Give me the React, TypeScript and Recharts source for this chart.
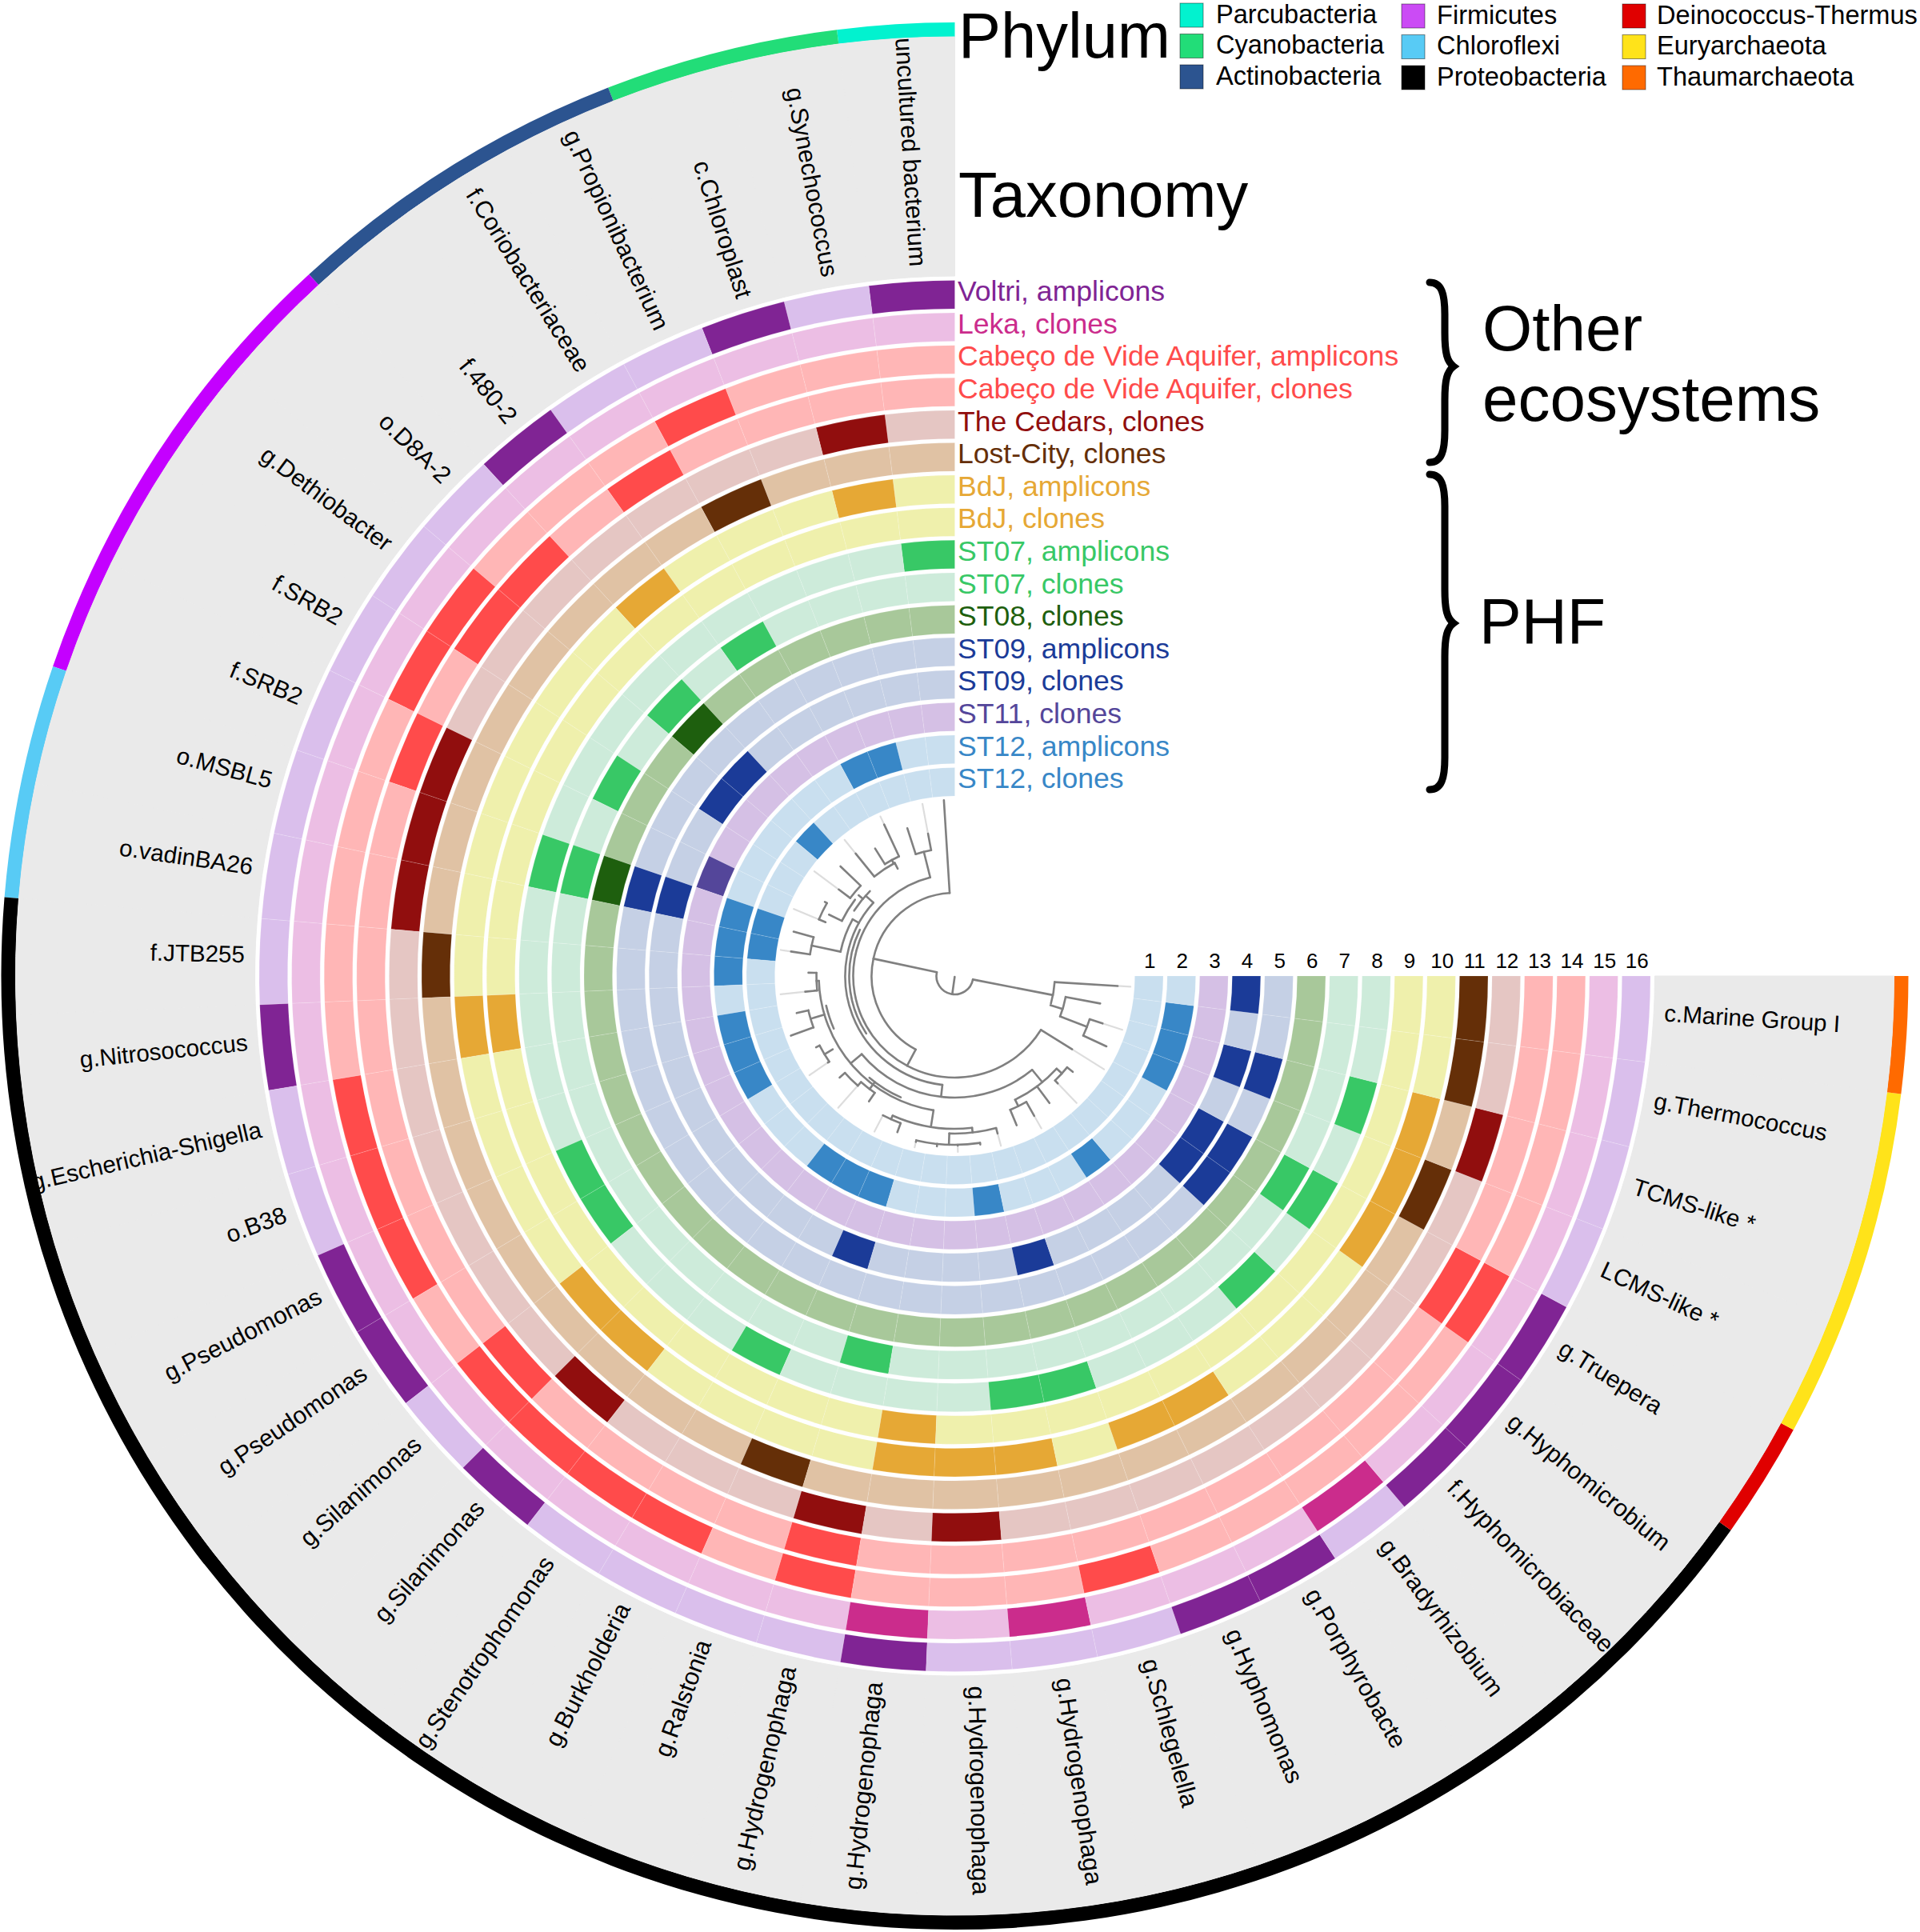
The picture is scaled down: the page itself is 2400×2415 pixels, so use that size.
import React from 'react';
import { PieChart, Pie, Cell } from 'recharts';

const WIDTH = 2400;
const HEIGHT = 2415;
const CX = 1193.5;
const CY = 1220;
const START = 90;
const END = 360;
const RING_IN = 225;
const RING_STEP = 40.6;
const RING_W = 35.5;

const taxa = [
  'uncultured bacterium', 'g.Synechococcus', 'c.Chloroplast', 'g.Propionibacterium', 'f.Coriobacteriaceae',
  'f.480-2', 'o.D8A-2', 'g.Dethiobacter', 'f.SRB2', 'f.SRB2', 'o.MSBL5', 'o.vadinBA26', 'f.JTB255',
  'g.Nitrosococcus', 'g.Escherichia-Shigella', 'o.B38', 'g.Pseudomonas', 'g.Pseudomonas', 'g.Silanimonas',
  'g.Silanimonas', 'g.Stenotrophomonas', 'g.Burkholderia', 'g.Ralstonia', 'g.Hydrogenophaga', 'g.Hydrogenophaga',
  'g.Hydrogenophaga', 'g.Hydrogenophaga', 'g.Schlegelella', 'g.Hyphomonas', 'g.Porphyrobacte', 'g.Bradyrhizobium',
  'f.Hyphomicrobiaceae', 'g.Hyphomicrobium', 'g.Truepera', 'LCMS-like *', 'TCMS-like *', 'g.Thermococcus',
  'c.Marine Group I',
];

// rings from the inside out
const samples = [
  'ST12, clones', 'ST12, amplicons', 'ST11, clones', 'ST09, clones', 'ST09, amplicons', 'ST08, clones',
  'ST07, clones', 'ST07, amplicons', 'BdJ, clones', 'BdJ, amplicons', 'Lost-City, clones', 'The Cedars, clones',
  'Cabeço de Vide Aquifer, clones', 'Cabeço de Vide Aquifer, amplicons', 'Leka, clones', 'Voltri, amplicons',
];
const lightColors = [
  '#C9DFEF', '#C9DFEF', '#D5C0E5', '#C5D0E5', '#C5D0E5', '#A8C89A', '#CDEBDA', '#CDEBDA',
  '#EFF0AC', '#EFF0AC', '#E0C2A4', '#E5C6C3', '#FFB6B6', '#FFB6B6', '#ECBEE4', '#DABFEC',
];
const darkColors = [
  '#3887C7', '#3887C7', '#54469A', '#1B3B98', '#1B3B98', '#1E5F0E', '#38C866', '#38C866',
  '#E6A835', '#E6A835', '#652F08', '#910E0E', '#FF4B4B', '#FF4B4B', '#CB2C8C', '#802494',
];
// which taxa are found in each ring
const hits = [
  [6, 10, 11],
  [2, 3, 10, 11, 12, 14, 15, 16, 20, 21, 22, 26, 30, 34, 35, 36],
  [9],
  [6, 7, 10, 22, 27, 32, 33, 35, 37],
  [10, 32, 33, 35],
  [6, 10],
  [4, 6, 8, 10, 23, 33],
  [0, 10, 16, 17, 21, 26, 27, 31, 33, 35],
  [13, 24],
  [1, 5, 13, 18, 19, 24, 25, 26, 28, 29, 33, 34, 35],
  [3, 12, 22, 34, 36, 37],
  [1, 9, 10, 11, 19, 23, 25, 35],
  [4, 6, 7, 9, 18, 23, 33],
  [3, 7, 8, 14, 15, 16, 18, 19, 20, 21, 23, 27, 33],
  [24, 26, 30],
  [0, 2, 5, 13, 16, 17, 19, 24, 28, 29, 31, 32, 33],
];

const phyla = [
  'Parcubacteria', 'Cyanobacteria', 'Actinobacteria', 'Firmicutes', 'Chloroflexi', 'Proteobacteria',
  'Deinococcus-Thermus', 'Euryarchaeota', 'Thaumarchaeota',
];
const phylumColors = ['#02F2CF', '#22DD78', '#2C5490', '#C400FF', '#58CBF5', '#000000', '#E00000', '#FFE31A', '#FF6A00'];
const legendColors = ['#02F2CF', '#22DD78', '#2C5490', '#CB4BF5', '#58CBF5', '#000000', '#E00000', '#FFE31A', '#FF6A00'];
const phylumCounts = [1, 2, 3, 4, 2, 21, 1, 3, 1];

// tree: angle in degrees counter-clockwise from the top, radius in px
const treeArcs = [
  [23, 78, 259], [125, 254, 266.5], [141, 249, 259.3], [177, 245.1, 252.2], [104, 3.55, 152], [127, 14, 238],
  [137, 48, 173.5], [152, 130, 219.5], [160, 10.65, 17.8], [160, 28, 39], [165, 25, 32], [150, 45, 57],
  [146, 61, 78], [183, 74.6, 81.5], [184, 60.3, 67.4], [157, 52.6, 64], [163, 46.2, 53.3], [170, 92, 171],
  [173, 88.7, 96], [191, 156, 186.5], [197, 178, 195.2], [211, 166.8, 188.6], [196, 152.7, 159.8], [166, 140, 156],
  [177, 138.5, 145.6], [183, 131.4, 138.5], [188, 103.2, 110], [165, 103, 113.5], [190, 117.2, 124.3],
  [172, 206, 227.7], [181, 223.8, 230.9], [181, 202.5, 209.6], [132, 64, 123],
];
const treeStems = [
  [172, 1, 23], [78, 23, 104], [259, 23, 125], [266.5, 125, 204], [253, 125, 141], [259.3, 141, 185], [249, 141, 177],
  [252.2, 177, 194], [245.1, 177, 209], [3.55, 104, 220], [152, 104, 127], [238, 127, 173], [14, 127, 160],
  [17.8, 160, 194], [10.65, 160, 181], [173.5, 137, 152], [130, 152, 170], [48, 137, 150], [50, 150, 157],
  [64, 157, 175], [67.4, 175, 184], [60.3, 184, 187], [39, 160, 197], [28, 152, 160], [28.5, 160, 165], [25, 165, 209],
  [32, 165, 188], [46.2, 163, 198], [53.3, 163, 181], [78, 146, 183], [81.5, 183, 207], [74.6, 183, 209], [61, 137, 146],
  [171, 170, 191], [186.5, 191, 197], [178, 197, 211], [195.2, 197, 204], [166.8, 211, 213], [174, 211, 214],
  [181, 211, 212], [188.6, 211, 213], [156, 191, 196], [159.8, 196, 208], [143, 166, 177], [145.6, 177, 190],
  [138.5, 177, 183], [131.4, 183, 192], [106.5, 170, 188], [103.2, 188, 203], [110, 188, 218], [121, 178, 190],
  [117.2, 190, 195], [124.3, 190, 192], [92, 170, 173], [88.7, 173, 183], [96, 173, 188], [219.5, 152, 172],
  [227.7, 172, 181], [230.9, 181, 190], [223.8, 181, 186], [216.7, 172, 198], [206, 172, 181], [202.5, 181, 202],
  [209.6, 181, 201],
];
const treeFaded = [
  [266.5, 204, 220], [252.2, 194, 220], [238, 173, 220], [10.65, 181, 219], [67.4, 184, 218], [39, 197, 219],
  [25, 209, 220], [53.3, 181, 219], [81.5, 207, 220], [195.2, 204, 220], [166.8, 213, 220], [181, 212, 220],
  [152.7, 196, 219], [138.5, 183, 220], [124.3, 192, 220], [96, 188, 219], [223.8, 186, 220], [209.6, 201, 219],
];

const FONT = '"Liberation Sans", Arial, sans-serif';
const unitData = taxa.map((name) => ({ name, value: 1 }));
const phylumData = phyla.map((name, i) => ({ name, value: phylumCounts[i] }));

const polar = (r: number, a: number) => {
  const t = (a * Math.PI) / 180;
  return [CX - r * Math.sin(t), CY - r * Math.cos(t)];
};

const arcPath = ([r, a0, a1]: number[]) => {
  const [x0, y0] = polar(r, a0);
  const [x1, y1] = polar(r, a1);
  return `M${x0},${y0}A${r},${r} 0 ${a1 - a0 > 180 ? 1 : 0} 0 ${x1},${y1}`;
};

const stemPath = ([a, r0, r1]: number[]) => {
  const [x0, y0] = polar(r0, a);
  const [x1, y1] = polar(r1, a);
  return `M${x0},${y0}L${x1},${y1}`;
};

const bracePath = (x: number, top: number, bottom: number, tip: number) => {
  const m = x + 19;
  const e = x + 30;
  return `M${x},${top}C${m - 4},${top} ${m},${top + 14} ${m},${top + 40}L${m},${tip - 42}C${m},${tip - 16} ${e - 8},${tip - 6} ${e},${tip}C${e - 8},${tip + 6} ${m},${tip + 16} ${m},${tip + 42}L${m},${bottom - 40}C${m},${bottom - 14} ${m - 4},${bottom} ${x},${bottom}`;
};

const renderTaxon = (props: any) => {
  const { midAngle, index } = props;
  const t = (midAngle * Math.PI) / 180;
  const x = CX + 888 * Math.cos(t);
  const y = CY - 888 * Math.sin(t);
  const left = midAngle < 270;
  const rot = left ? 180 - midAngle : 360 - midAngle;
  // the source picture is a little taller than wide, so upright labels run longer
  const size = 29.5 + 1.2 * Math.abs(Math.sin((rot * Math.PI) / 180));
  return (
    <text
      key={index}
      x={x}
      y={y - 9}
      fontSize={size}
      fontFamily={FONT}
      fill="#000"
      textAnchor={left ? 'end' : 'start'}
      dominantBaseline="central"
      transform={`rotate(${rot} ${x} ${y})`}
    >
      {taxa[index]}
    </text>
  );
};

const legendX = [1475, 1752, 2028];
const legendY = [4, 42.5, 81];

export default function App() {
  return (
    <div style={{ position: 'absolute', left: 0, top: 0, width: WIDTH, height: HEIGHT, background: '#fff' }}>
      <PieChart width={WIDTH} height={HEIGHT} margin={{ top: 0, right: 0, bottom: 0, left: 0 }}>
        <Pie
          data={phylumData}
          dataKey="value"
          cx={CX}
          cy={CY}
          startAngle={START}
          endAngle={END}
          innerRadius={1174}
          outerRadius={1192}
          stroke="none"
          isAnimationActive={false}
        >
          {phylumData.map((d, i) => (
            <Cell key={d.name} fill={phylumColors[i]} />
          ))}
        </Pie>
        <Pie
          data={unitData}
          dataKey="value"
          cx={CX}
          cy={CY}
          startAngle={START}
          endAngle={END}
          innerRadius={875}
          outerRadius={1174}
          fill="#EAEAEA"
          stroke="#EAEAEA"
          strokeWidth={1}
          label={renderTaxon}
          labelLine={false}
          isAnimationActive={false}
        />
        {samples.map((s, k) => (
          <Pie
            key={s}
            data={unitData}
            dataKey="value"
            cx={CX}
            cy={CY}
            startAngle={START}
            endAngle={END}
            innerRadius={RING_IN + k * RING_STEP}
            outerRadius={RING_IN + k * RING_STEP + RING_W}
            stroke="rgba(255,255,255,0.14)"
            strokeWidth={1}
            isAnimationActive={false}
          >
            {unitData.map((d, i) => (
              <Cell key={i} fill={hits[k].includes(i) ? darkColors[k] : lightColors[k]} />
            ))}
          </Pie>
        ))}
        <g fill="none" strokeLinecap="round">
          {treeFaded.map((s, i) => (
            <path key={i} d={stemPath(s)} stroke="#DDDDDD" strokeWidth={2.2} />
          ))}
          {treeArcs.map((a, i) => (
            <path key={i} d={arcPath(a)} stroke="#808080" strokeWidth={2.6} />
          ))}
          {treeStems.map((s, i) => (
            <path key={i} d={stemPath(s)} stroke="#808080" strokeWidth={2.6} />
          ))}
        </g>
        {samples.map((s, k) => (
          <text
            key={s}
            x={CX + RING_IN + k * RING_STEP + RING_W / 2 + 1}
            y={1201}
            fontSize={26}
            fontFamily={FONT}
            textAnchor="middle"
            dominantBaseline="central"
          >
            {k + 1}
          </text>
        ))}
        {samples.map((s, k) => (
          <text
            key={s}
            x={1197}
            y={CY - (RING_IN + k * RING_STEP + RING_W / 2) - 4}
            fontSize={35.6}
            fontFamily={FONT}
            fill={darkColors[k]}
            dominantBaseline="central"
          >
            {s}
          </text>
        ))}
        <g fontFamily={FONT}>
          <text x={1198} y={44} fontSize={79.5} dominantBaseline="central">Phylum</text>
          <text x={1198} y={243} fontSize={79.5} dominantBaseline="central">Taxonomy</text>
          <text x={1853} y={410} fontSize={80} dominantBaseline="central">Other</text>
          <text x={1853} y={498} fontSize={80} dominantBaseline="central">ecosystems</text>
          <text x={1849} y={776} fontSize={79} dominantBaseline="central">PHF</text>
        </g>
        <g fill="none" stroke="#000" strokeWidth={9} strokeLinecap="round">
          <path d={bracePath(1787, 353, 578, 458)} />
          <path d={bracePath(1787, 593, 987, 779)} />
        </g>
        {phyla.map((p, i) => {
          const col = Math.floor(i / 3);
          const row = i % 3;
          return (
            <g key={p}>
              <rect
                x={legendX[col]}
                y={legendY[row] + (col ? 1 : 0)}
                width={29}
                height={30}
                fill={legendColors[i]}
                stroke="rgba(0,0,0,0.45)"
                strokeWidth={1}
              />
              <text
                x={legendX[col] + 45 - col}
                y={legendY[row] + (col ? 14 : 13)}
                fontSize={32.6}
                fontFamily={FONT}
                dominantBaseline="central"
              >
                {p}
              </text>
            </g>
          );
        })}
      </PieChart>
    </div>
  );
}
